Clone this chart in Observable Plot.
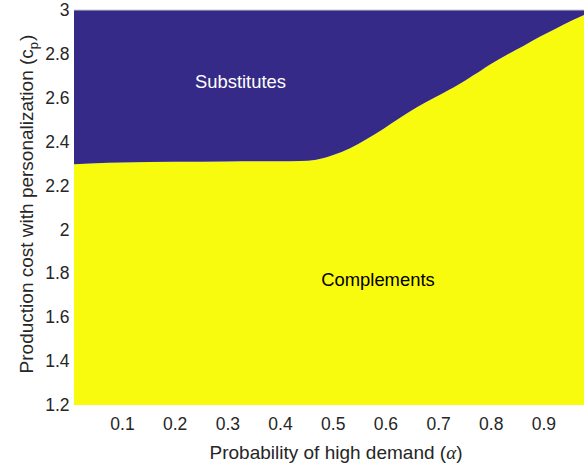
<!DOCTYPE html>
<html>
<head>
<meta charset="utf-8">
<script src="https://cdn.jsdelivr.net/npm/d3@7"></script>
<script src="https://cdn.jsdelivr.net/npm/@observablehq/plot@0.6"></script>
<style>
  html, body { margin: 0; padding: 0; background: #fff; }
  #chart { width: 584px; height: 467px; overflow: hidden; }
</style>
</head>
<body>
<div id="chart"></div>
<script>
// Boundary between the two regions
const alpha = [0.009, 0.05, 0.1, 0.2, 0.3, 0.4, 0.438, 0.469, 0.501, 0.533, 0.564, 0.596, 0.628, 0.659, 0.691, 0.722, 0.735, 0.767, 0.783, 0.798, 0.830, 0.862, 0.893, 0.925, 0.956, 0.977];
const cpBoundary = [2.297, 2.302, 2.305, 2.308, 2.310, 2.311, 2.312, 2.318, 2.339, 2.370, 2.411, 2.458, 2.509, 2.556, 2.598, 2.638, 2.655, 2.703, 2.727, 2.751, 2.795, 2.836, 2.878, 2.917, 2.954, 2.977];

const xTicks = [0.1, 0.2, 0.3, 0.4, 0.5, 0.6, 0.7, 0.8, 0.9];
const yTicks = [1.2, 1.4, 1.6, 1.8, 2, 2.2, 2.4, 2.6, 2.8, 3];

const regionNames = ["Substitutes", "Complements"];
const regionAlpha = [0.324, 0.585];
const regionCp = [2.6446, 1.7468];

const xLabel = "Probability of high demand (α)";
const yLabel = "Production cost with personalization (cp)";

const yMin = 1.2, yMax = 3;
const purple = "#352a87";
const yellow = "#f9fb0e";

const data = alpha.map((a, i) => ({a, cp: cpBoundary[i]}));
const notes = regionNames.map((name, i) => ({name, a: regionAlpha[i], cp: regionCp[i]}));

const chart = Plot.plot({
  width: 584,
  height: 467,
  marginLeft: 74,
  marginRight: 0,
  marginTop: 10,
  marginBottom: 62,
  style: {fontFamily: "'Liberation Sans', Arial, Helvetica, sans-serif", fontSize: "17.5px", color: "#262626", background: "#fff"},
  x: {domain: [0.009, 0.977]},
  y: {domain: [yMin, yMax]},
  marks: [
    Plot.areaY(data, {x: "a", y1: () => yMin, y2: "cp", fill: yellow, curve: "monotone-x"}),
    Plot.areaY(data, {x: "a", y1: "cp", y2: () => yMax, fill: purple, curve: "monotone-x"}),
    Plot.ruleY([yMax], {stroke: "#c8c8c8", dy: -0.5}),
    Plot.axisX({ticks: xTicks, tickSize: 0, tickPadding: 12, label: null, tickFormat: d => String(+d.toFixed(1)), fontSize: 17.5}),
    Plot.axisY({ticks: yTicks, tickSize: 0, tickPadding: 5, label: null, tickFormat: d => String(+d.toFixed(1)), fontSize: 17.5}),
    Plot.text(notes, {x: "a", y: "cp", text: "name", lineAnchor: "bottom", fontSize: 18.4, fill: (d) => d.name === "Substitutes" ? "#ffffff" : "#000000"}),
    Plot.text([xLabel], {frameAnchor: "bottom", textAnchor: "middle", dx: 6.5, dy: 53, lineAnchor: "bottom", fontSize: 19, fill: "#262626"}),
    Plot.text([yLabel], {frameAnchor: "left", textAnchor: "middle", dx: -42, dy: -4, rotate: -90, lineAnchor: "bottom", fontSize: 19, fill: "#262626"})
  ]
});

d3.select(chart).selectAll("text").each(function() {
  const t = d3.select(this);
  const s = this.textContent;
  if (s === xLabel) {
    t.text("Probability of high demand (");
    t.append("tspan").attr("font-family", "'Liberation Serif', 'DejaVu Serif', serif").attr("font-style", "italic").text("α");
    t.append("tspan").text(")");
  } else if (s === yLabel) {
    t.text("Production cost with personalization (c");
    t.append("tspan").attr("dy", 5).attr("font-size", 13).text("p");
    t.append("tspan").attr("dy", -5).attr("dx", 1).text(")");
  }
});

document.getElementById("chart").appendChild(chart);
</script>
</body>
</html>
